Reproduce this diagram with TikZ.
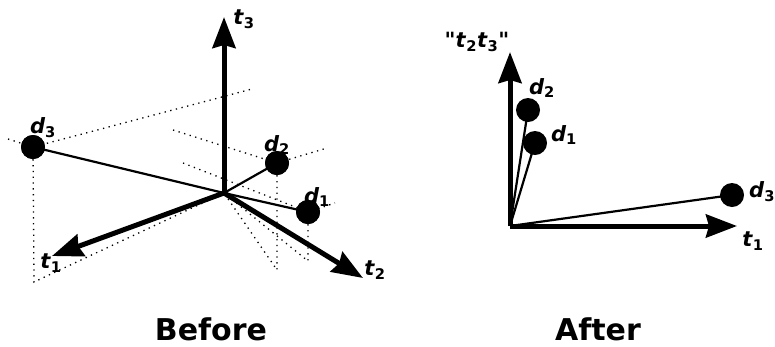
\documentclass[tikz,border=0pt]{standalone}
\usepackage{fontspec}
\setmainfont{DejaVu Sans}
\usetikzlibrary{arrows.meta}
\newcommand{\vlab}[2]{\textit{#1}\textsubscript{#2}}
\tikzset{
  axis/.style ={-{Stealth[length=31pt, width=23pt, inset=3pt]}, line width=5pt},   % term axis
  vec/.style  ={line width=2.2pt},                                                  % document vector
  proj/.style ={line width=1.3pt, dash pattern=on 1.3pt off 4.5pt},                 % projection guide
  dot/.style  ={draw=none, circle, fill=black, minimum size=24pt, inner sep=0pt},
  lbl/.style  ={font=\fontsize{21}{24}\selectfont\bfseries, inner sep=0pt},
  ttl/.style  ={font=\fontsize{30}{36}\selectfont\bfseries, inner sep=0pt, anchor=base},
}
\begin{document}
\begin{tikzpicture}[x=1pt, y=-1pt]
  \useasboundingbox (0,0) rectangle (775,346);

  % --- before: three terms in space
  \coordinate (o)  at (224,193);
  \coordinate (t1) at (52,256);
  \coordinate (t2) at (363,278);
  \coordinate (t3) at (224,17);
  \node[dot] (d1) at (308,212) {};
  \node[dot] (d2) at (277,163) {};
  \node[dot] (d3) at (33,147)  {};

  \coordinate (a3) at (8,139);   \coordinate (b3) at (252,89);  \coordinate (p3) at (34,282);
  \coordinate (a2) at (173,130); \coordinate (b2) at (327,148); \coordinate (p2) at (277,270);
  \coordinate (a1) at (183,163); \coordinate (b1) at (335,203); \coordinate (p1) at (308,261);
  \draw[proj] (a3) -- (d3.center) -- (b3);
  \draw[proj] (d3) -- (p3) -- (o);
  \draw[proj] (a2) -- (d2.center) -- (b2);
  \draw[proj] (d2) -- (p2) -- (o);
  \draw[proj] (a1) -- (d1.center) -- (b1);
  \draw[proj] (d1) -- (p1) -- (o);

  \draw[vec] (o) -- (d1.center);
  \draw[vec] (o) -- (d2.center);
  \draw[vec] (o) -- (d3.center);
  \draw[axis] (o) -- (t1);
  \draw[axis] (o) -- (t2);
  \draw[axis] (o) -- (t3);
  \node[dot] at (d1) {};
  \node[dot] at (d2) {};
  \node[dot] at (d3) {};

  \node[lbl] at (244,19)  {\vlab{t}{3}};
  \node[lbl] at (51,263)  {\vlab{t}{1}};
  \node[lbl] at (375,270) {\vlab{t}{2}};
  \node[lbl] at (43,128)  {\vlab{d}{3}};
  \node[lbl] at (277,145) {\vlab{d}{2}};
  \node[lbl] at (317,197) {\vlab{d}{1}};
  \node[ttl] (before) at (211,340) {Before};

  % --- after: two dimensions left
  \coordinate (oa)  at (510,226);
  \coordinate (u1)  at (737,226);
  \coordinate (u23) at (510,52);
  \node[dot] (e1) at (535,143) {};
  \node[dot] (e2) at (528,110) {};
  \node[dot] (e3) at (732,195) {};
  \draw[vec] (oa) -- (e1.center);
  \draw[vec] (oa) -- (e2.center);
  \draw[vec] (oa) -- (e3.center);
  \draw[axis] (oa) -- (u1);
  \draw[axis] (oa) -- (u23);

  \node[lbl] at (477,42)  {\textquotedbl\vlab{t}{2}\vlab{t}{3}\textquotedbl};
  \node[lbl] at (753,241) {\vlab{t}{1}};
  \node[lbl] at (542,88)  {\vlab{d}{2}};
  \node[lbl] at (564,135) {\vlab{d}{1}};
  \node[lbl] at (762,192) {\vlab{d}{3}};
  \node[ttl] (after) at (598,340) {After};
\end{tikzpicture}
\end{document}
